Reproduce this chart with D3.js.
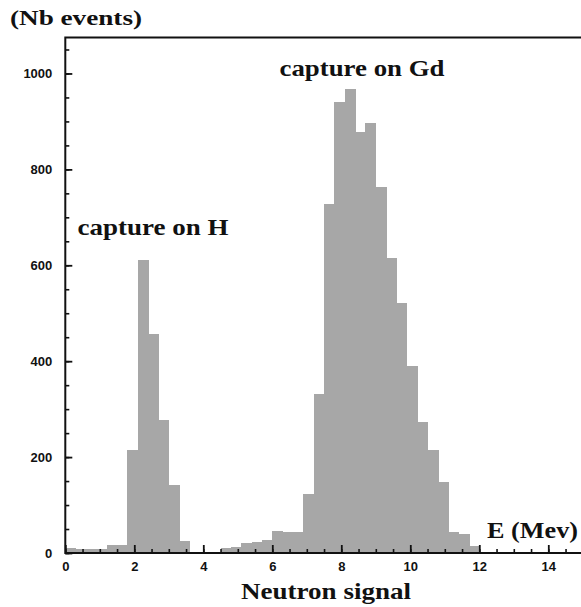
<!DOCTYPE html>
<html>
<head>
<meta charset="utf-8">
<script src="https://cdn.jsdelivr.net/npm/d3@7"></script>
<style>
  body { margin: 0; background: #fff; }
  .tick text { font-family: "Liberation Sans", Arial, sans-serif; font-weight: bold; font-size: 13px; fill: #111; }
  .ttl { font-family: "Liberation Serif", "Times New Roman", serif; font-weight: bold; fill: #111; }
</style>
</head>
<body>
<svg class="visual" width="581" height="607"></svg>
<script>
// Histogram of neutron signal energy, bins of 0.3 MeV from 0 to 15
const binWidth = 0.3;
const counts = [10, 8, 8, 9, 16, 17, 214, 611, 456, 278,
                141, 26, 0, 0, 3, 11, 12, 20, 22, 27,
                45, 44, 44, 122, 332, 728, 941, 967, 878, 897,
                763, 615, 521, 390, 273, 215, 148, 43, 40, 14,
                0, 0, 0, 0, 0, 0, 0, 0, 0, 0];
const xMajor = [0, 2, 4, 6, 8, 10, 12, 14];
const yMajor = [0, 200, 400, 600, 800, 1000];

const svg = d3.select(".visual");

// plot area (right edge runs just past the window)
const plotL = 65.3, plotR = 582.8, plotT = 37.5, plotB = 553;

const x = d3.scaleLinear().domain([0, 15]).range([plotL, plotR]);
const y = d3.scaleLinear().domain([0, 1075]).range([plotB, plotT]);

// bars
svg.append("g")
    .attr("shape-rendering", "crispEdges")
    .selectAll("rect")
    .data(counts)
    .join("rect")
    .attr("x", (d, i) => x(i * binWidth))
    .attr("width", x(binWidth) - x(0) + 0.6)
    .attr("y", d => y(d))
    .attr("height", d => y(0) - y(d))
    .attr("fill", "#a7a7a7");

// minor ticks
svg.append("g")
    .attr("transform", `translate(0,${plotB})`)
    .call(d3.axisBottom(x).tickValues(d3.range(0, 15.01, 0.5)).tickSize(-4).tickFormat(""))
    .call(g => g.select(".domain").remove())
    .call(g => g.selectAll("line").attr("stroke", "#111").attr("stroke-width", 1.6));

svg.append("g")
    .attr("transform", `translate(${plotL},0)`)
    .call(d3.axisLeft(y).tickValues(d3.range(0, 1075, 50)).tickSize(-4).tickFormat(""))
    .call(g => g.select(".domain").remove())
    .call(g => g.selectAll("line").attr("stroke", "#111").attr("stroke-width", 1.6));

// major ticks + labels
svg.append("g")
    .attr("transform", `translate(0,${plotB})`)
    .call(d3.axisBottom(x).tickValues(xMajor).tickSize(-8).tickPadding(9).tickFormat(d3.format("d")))
    .call(g => g.select(".domain").remove())
    .call(g => g.selectAll("line").attr("stroke", "#111").attr("stroke-width", 1.8));

svg.append("g")
    .attr("transform", `translate(${plotL},0)`)
    .call(d3.axisLeft(y).tickValues(yMajor).tickSize(-7).tickPadding(13).tickFormat(d3.format("d")))
    .call(g => g.select(".domain").remove())
    .call(g => g.selectAll("line").attr("stroke", "#111").attr("stroke-width", 1.8));

// frame
svg.append("rect")
    .attr("x", plotL).attr("y", plotT)
    .attr("width", plotR - plotL).attr("height", plotB - plotT)
    .attr("fill", "none").attr("stroke", "#111").attr("stroke-width", 2);

// texts
function label(txt, px, py, size, len) {
    svg.append("text").attr("class", "ttl")
        .attr("x", px).attr("y", py)
        .style("font-size", size + "px")
        .attr("textLength", len).attr("lengthAdjust", "spacingAndGlyphs")
        .text(txt);
}
label("(Nb events)", 10, 25, 22, 132);
label("capture on Gd", 279.5, 76, 23, 165);
label("capture on H", 77.5, 235, 23, 151);
label("E (Mev)", 487, 538, 23, 91);
label("Neutron signal", 241, 599, 24, 170);
</script>
</body>
</html>
